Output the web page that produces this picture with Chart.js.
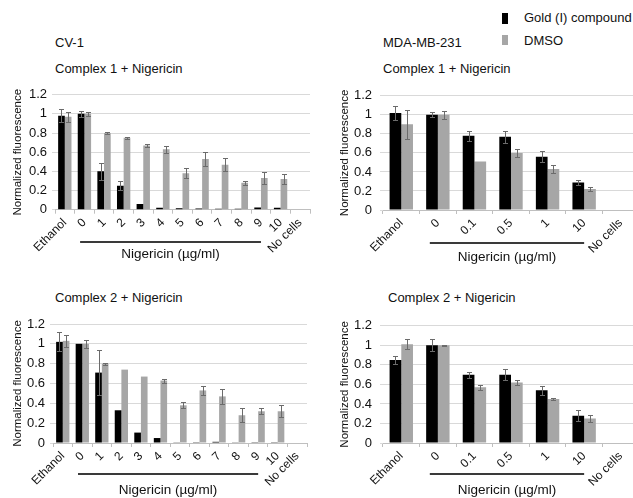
<!DOCTYPE html>
<html>
<head>
<meta charset="utf-8">
<script src="https://cdn.jsdelivr.net/npm/chart.js@4.4.1/dist/chart.umd.min.js"></script>
<style>
  html, body { margin: 0; padding: 0; background: #fff; }
  body { width: 633px; height: 498px; overflow: hidden; position: relative;
         font-family: 'Liberation Sans', Arial, sans-serif; color: #111; }
  canvas { position: absolute; }
  .txt { position: absolute; font-size: 13px; line-height: 16px; white-space: nowrap; }
  .key { position: absolute; left: 502px; width: 6px; }
</style>
</head>
<body>
<div class="key" style="top:13px;height:11px;background:#000"></div>
<div class="key" style="top:35px;height:10px;background:#a6a6a6"></div>
<div class="txt" style="left:524px;top:10px">Gold (I) compound</div>
<div class="txt" style="left:524px;top:33px">DMSO</div>

<div class="txt" style="left:55px;top:35px">CV-1</div>
<div class="txt" style="left:55px;top:61px">Complex 1 + Nigericin</div>
<div class="txt" style="left:383px;top:35px">MDA-MB-231</div>
<div class="txt" style="left:383px;top:61px">Complex 1 + Nigericin</div>
<div class="txt" style="left:55px;top:290px">Complex 2 + Nigericin</div>
<div class="txt" style="left:388px;top:290px">Complex 2 + Nigericin</div>

<canvas id="cv1" width="320" height="200" style="left:0;top:80px"></canvas>
<canvas id="mda1" width="320" height="200" style="left:320px;top:80px"></canvas>
<canvas id="cv2" width="320" height="188" style="left:0;top:310px"></canvas>
<canvas id="mda2" width="320" height="188" style="left:320px;top:310px"></canvas>

<script>
// categories
const cvLabels = ['Ethanol', '0', '1', '2', '3', '4', '5', '6', '7', '8', '9', '10', 'No cells'];
const mdaLabels = ['Ethanol', '0', '0.1', '0.5', '1', '10', 'No cells'];

// CV-1, complex 1
const cv1Gold    = [0.98, 1.00, 0.40, 0.25, 0.06, 0.02, 0.014, 0.012, 0.010, 0.010, 0.022, 0.020, 0];
const cv1GoldErr = [0.07, 0.03, 0.09, 0.045, 0, 0, 0, 0, 0, 0, 0, 0, 0];
const cv1Dmso    = [0.97, 1.00, 0.80, 0.75, 0.67, 0.63, 0.38, 0.53, 0.47, 0.28, 0.33, 0.32, 0];
const cv1DmsoErr = [0.05, 0.02, 0.01, 0.01, 0.02, 0.035, 0.05, 0.07, 0.07, 0.02, 0.06, 0.055, 0];

// MDA-MB-231, complex 1
const mda1Gold    = [1.02, 1.00, 0.78, 0.77, 0.56, 0.29, 0];
const mda1GoldErr = [0.075, 0.025, 0.055, 0.065, 0.06, 0.03, 0];
const mda1Dmso    = [0.90, 1.00, 0.51, 0.60, 0.43, 0.22, 0];
const mda1DmsoErr = [0.155, 0.04, 0, 0.045, 0.04, 0.025, 0];

// CV-1, complex 2
const cv2Gold    = [1.02, 1.00, 0.71, 0.33, 0.105, 0.05, 0.003, 0.008, 0.012, 0.003, 0.008, 0.008, 0];
const cv2GoldErr = [0.095, 0, 0.23, 0, 0, 0, 0, 0, 0, 0, 0, 0, 0];
const cv2Dmso    = [1.03, 1.00, 0.80, 0.74, 0.67, 0.63, 0.38, 0.53, 0.47, 0.28, 0.32, 0.32, 0];
const cv2DmsoErr = [0.06, 0.04, 0.01, 0, 0, 0.02, 0.03, 0.045, 0.075, 0.07, 0.03, 0.06, 0];

// MDA-MB-231, complex 2
const mda2Gold    = [0.85, 1.00, 0.70, 0.70, 0.54, 0.28, 0];
const mda2GoldErr = [0.04, 0.06, 0.03, 0.06, 0.045, 0.058, 0];
const mda2Dmso    = [1.01, 1.00, 0.57, 0.62, 0.45, 0.25, 0];
const mda2DmsoErr = [0.05, 0.005, 0.024, 0.03, 0.014, 0.04, 0];

const yTicks = { min: 0, max: 1.2, step: 0.2 };

const FONT = "'Liberation Sans', Arial, sans-serif";

const errorBars = {
    id: 'errorBars',
    afterDatasetsDraw(chart) {
        const ctx = chart.ctx;
        const yScale = chart.scales.y;
        ctx.save();
        ctx.strokeStyle = '#6b6b6b';
        ctx.lineWidth = 1;
        chart.data.datasets.forEach((ds, i) => {
            chart.getDatasetMeta(i).data.forEach((bar, j) => {
                const err = ds.errors[j];
                if (!err) return;
                const v = ds.data[j];
                const x = Math.round(bar.x) + 0.5;
                const top = Math.round(yScale.getPixelForValue(v + err)) + 0.5;
                const bot = Math.round(yScale.getPixelForValue(v - err)) + 0.5;
                ctx.beginPath();
                ctx.moveTo(x, top); ctx.lineTo(x, bot);
                ctx.moveTo(x - 2.5, top); ctx.lineTo(x + 2.5, top);
                ctx.moveTo(x - 2.5, bot); ctx.lineTo(x + 2.5, bot);
                ctx.stroke();
            });
        });
        ctx.restore();
    }
};

// line under the nigericin doses, with its caption
const doseLine = {
    id: 'doseLine',
    afterDraw(chart, args, opts) {
        const xScale = chart.scales.x;
        const labels = chart.data.labels;
        const cat = xScale.width / labels.length;
        const x0 = xScale.getPixelForValue(labels.indexOf(opts.from)) - 0.22 * cat;
        const x1 = xScale.getPixelForValue(labels.indexOf(opts.to));
        const ctx = chart.ctx;
        ctx.save();
        ctx.strokeStyle = '#3a3a3a';
        ctx.lineWidth = 2;
        ctx.beginPath();
        ctx.moveTo(x0, opts.lineY);
        ctx.lineTo(x1, opts.lineY);
        ctx.stroke();
        ctx.fillStyle = '#111';
        ctx.font = '13.5px ' + FONT;
        ctx.textAlign = 'center';
        ctx.textBaseline = 'middle';
        ctx.fillText('Nigericin (\u00b5g/ml)', (x0 + x1) / 2, opts.textY);
        ctx.restore();
    }
};

function makePanel(id, labels, gold, goldErr, dmso, dmsoErr, box) {
    new Chart(document.getElementById(id), {
        type: 'bar',
        data: {
            labels: labels,
            datasets: [
                { label: 'Gold (I) compound', data: gold, errors: goldErr, backgroundColor: '#000000',
                  borderWidth: 0, categoryPercentage: box.cat, barPercentage: 1 },
                { label: 'DMSO', data: dmso, errors: dmsoErr, backgroundColor: '#a6a6a6',
                  borderWidth: 0, categoryPercentage: box.cat, barPercentage: 1 }
            ]
        },
        options: {
            responsive: false,
            animation: false,
            devicePixelRatio: 1,
            layout: { padding: { top: box.padTop, right: box.padRight, left: 0, bottom: 0 } },
            scales: {
                x: {
                    grid: { display: true, drawOnChartArea: false, offset: true, tickLength: 4, color: '#bfbfbf' },
                    border: { display: true, color: '#bfbfbf' },
                    ticks: { autoSkip: false, minRotation: 45, maxRotation: 45, padding: 2, color: '#111',
                             font: { family: FONT, size: 12 } },
                    afterFit(scale) { scale.height = box.xHeight; }
                },
                y: {
                    min: yTicks.min,
                    max: yTicks.max,
                    grid: { color: '#d9d9d9', drawTicks: true, tickLength: 3 },
                    border: { display: false },
                    ticks: { stepSize: yTicks.step, autoSkip: false, padding: box.tickPad, color: '#111',
                             font: { family: FONT, size: 13 },
                             callback: v => String(Math.round(v * 10) / 10) },
                    title: { display: true, text: box.yTitle, color: '#111',
                             padding: { top: box.titlePad, bottom: 0 },
                             font: { family: FONT, size: 11.5 } },
                    afterFit(scale) { scale.width = box.yWidth; }
                }
            },
            plugins: {
                legend: { display: false },
                tooltip: { enabled: false },
                doseLine: { from: box.from, to: box.to, lineY: box.lineY, textY: box.textY }
            }
        },
        plugins: [errorBars, doseLine]
    });
}

makePanel('cv1', cvLabels, cv1Gold, cv1GoldErr, cv1Dmso, cv1DmsoErr, {
    yTitle: 'Normalized fluorescence', cat: 0.68, padTop: 14.7, padRight: 10, yWidth: 55, xHeight: 70.3,
    tickPad: 5, titlePad: 10.5, from: '0', to: '9', lineY: 162, textY: 174
});
makePanel('mda1', mdaLabels, mda1Gold, mda1GoldErr, mda1Dmso, mda1DmsoErr, {
    yTitle: 'Normalized fluorescence', cat: 0.64, padTop: 14, padRight: 1, yWidth: 63, xHeight: 70,
    tickPad: 8, titlePad: 17.5, from: '0', to: '10', lineY: 163, textY: 177
});
makePanel('cv2', cvLabels, cv2Gold, cv2GoldErr, cv2Dmso, cv2DmsoErr, {
    yTitle: 'Normalized fluorescence', cat: 0.68, padTop: 14, padRight: 13, yWidth: 53, xHeight: 55,
    tickPad: 5, titlePad: 10.5, from: '0', to: '9', lineY: 164, textY: 180
});
makePanel('mda2', mdaLabels, mda2Gold, mda2GoldErr, mda2Dmso, mda2DmsoErr, {
    yTitle: 'Normalized fluorescence', cat: 0.64, padTop: 15, padRight: 1, yWidth: 63, xHeight: 55,
    tickPad: 8, titlePad: 17.5, from: '0', to: '10', lineY: 164, textY: 180
});
</script>
</body>
</html>
